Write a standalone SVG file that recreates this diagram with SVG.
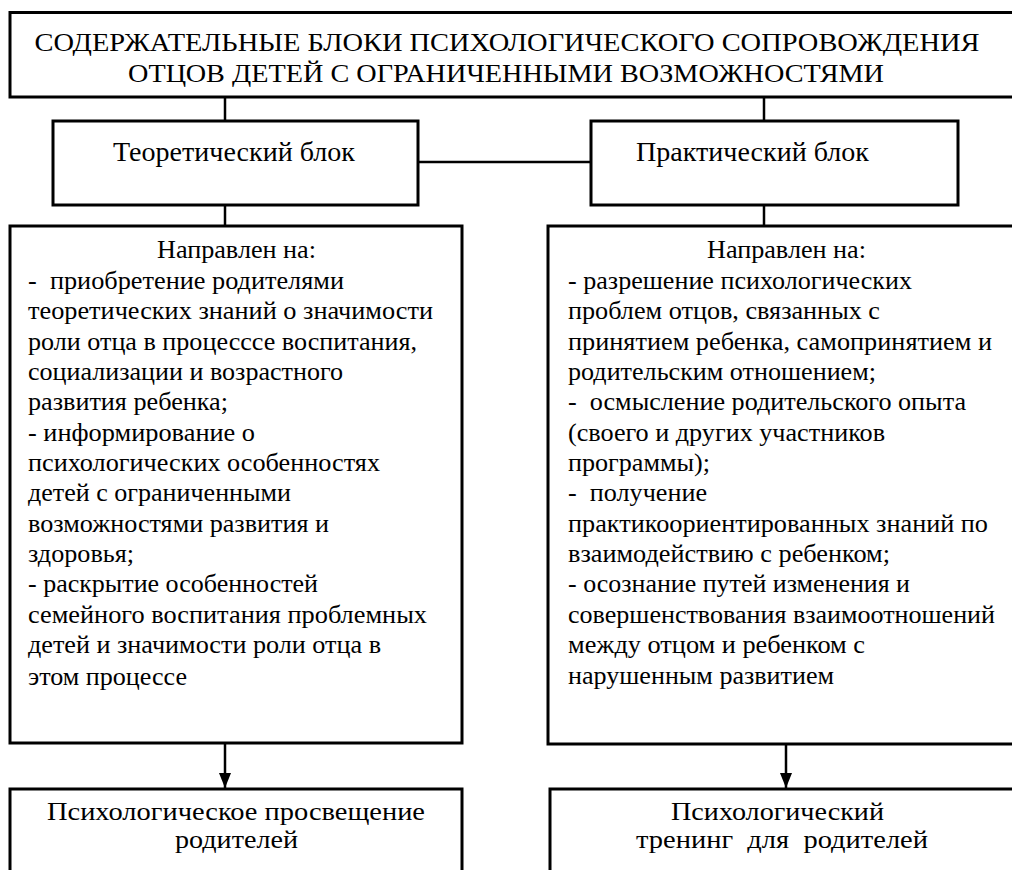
<svg xmlns="http://www.w3.org/2000/svg" width="1012" height="870" viewBox="0 0 1012 870">
<style>
.box{fill:#fff;stroke:#000;stroke-width:3}
.ln{stroke:#000;stroke-width:2.5;fill:none}
text{font-family:"Liberation Serif","DejaVu Serif","Times New Roman",serif;fill:#000;white-space:pre}
.t28{font-size:28px}
.t26{font-size:26px}
</style>
<defs>
<marker id="ah" markerWidth="15" markerHeight="12" refX="15" refY="6" orient="auto" markerUnits="userSpaceOnUse" viewBox="0 0 15 12">
<path d="M0,0 L15,6 L0,12 Z" fill="#000"/>
</marker>
</defs>
<g id="connectors">
<line class="ln" x1="225" y1="97" x2="225" y2="121"/>
<line class="ln" x1="764" y1="97" x2="764" y2="121"/>
<line class="ln" x1="418" y1="162" x2="591" y2="162"/>
<line class="ln" x1="225" y1="205" x2="225" y2="226"/>
<line class="ln" x1="764" y1="205" x2="764" y2="226"/>
<line class="ln" x1="225" y1="743" x2="225" y2="788" marker-end="url(#ah)"/>
<line class="ln" x1="786" y1="744" x2="786" y2="788" marker-end="url(#ah)"/>
</g>
<g id="title">
<rect class="box" x="10" y="12.5" width="1012" height="84.5"/>
<text class="t26" x="34.5" y="51" textLength="945" lengthAdjust="spacingAndGlyphs">СОДЕРЖАТЕЛЬНЫЕ БЛОКИ ПСИХОЛОГИЧЕСКОГО СОПРОВОЖДЕНИЯ</text>
<text class="t26" x="128" y="82" textLength="756" lengthAdjust="spacingAndGlyphs">ОТЦОВ ДЕТЕЙ С ОГРАНИЧЕННЫМИ ВОЗМОЖНОСТЯМИ</text>
</g>
<g id="theory">
<rect class="box" x="53" y="121" width="365" height="84"/>
<text class="t28" x="113" y="161" textLength="242" lengthAdjust="spacingAndGlyphs">Теоретический блок</text>
</g>
<g id="practice">
<rect class="box" x="591" y="121" width="367" height="84"/>
<text class="t28" x="636" y="161" textLength="233" lengthAdjust="spacingAndGlyphs">Практический блок</text>
</g>
<g id="theory-content">
<rect class="box" x="10" y="226" width="452" height="517"/>
<text class="t26" x="157" y="258" textLength="159" lengthAdjust="spacingAndGlyphs">Направлен на:</text>
<text class="t26" x="28" y="288.5" textLength="316" lengthAdjust="spacingAndGlyphs">-  приобретение родителями</text>
<text class="t26" x="28" y="319" textLength="405" lengthAdjust="spacingAndGlyphs">теоретических знаний о значимости</text>
<text class="t26" x="28" y="349.5" textLength="389" lengthAdjust="spacingAndGlyphs">роли отца в процесссе воспитания,</text>
<text class="t26" x="28" y="380" textLength="315" lengthAdjust="spacingAndGlyphs">социализации и возрастного</text>
<text class="t26" x="28" y="410" textLength="200" lengthAdjust="spacingAndGlyphs">развития ребенка;</text>
<text class="t26" x="28" y="440.5" textLength="227" lengthAdjust="spacingAndGlyphs">- информирование о</text>
<text class="t26" x="28" y="471" textLength="352" lengthAdjust="spacingAndGlyphs">психологических особенностях</text>
<text class="t26" x="28" y="501" textLength="263" lengthAdjust="spacingAndGlyphs">детей с ограниченными</text>
<text class="t26" x="28" y="531.5" textLength="301" lengthAdjust="spacingAndGlyphs">возможностями развития и</text>
<text class="t26" x="28" y="562" textLength="106" lengthAdjust="spacingAndGlyphs">здоровья;</text>
<text class="t26" x="28" y="592" textLength="290" lengthAdjust="spacingAndGlyphs">- раскрытие особенностей</text>
<text class="t26" x="28" y="622.5" textLength="399" lengthAdjust="spacingAndGlyphs">семейного воспитания проблемных</text>
<text class="t26" x="28" y="653" textLength="353" lengthAdjust="spacingAndGlyphs">детей и значимости роли отца в</text>
<text class="t26" x="28" y="685" textLength="159" lengthAdjust="spacingAndGlyphs">этом процессе</text>
</g>
<g id="practice-content">
<rect class="box" x="548" y="226" width="474" height="518"/>
<text class="t26" x="707" y="258" textLength="159" lengthAdjust="spacingAndGlyphs">Направлен на:</text>
<text class="t26" x="568" y="288.5" textLength="344" lengthAdjust="spacingAndGlyphs">- разрешение психологических</text>
<text class="t26" x="568" y="319" textLength="312" lengthAdjust="spacingAndGlyphs">проблем отцов, связанных с</text>
<text class="t26" x="568" y="349.5" textLength="424" lengthAdjust="spacingAndGlyphs">принятием ребенка, самопринятием и</text>
<text class="t26" x="568" y="380" textLength="308" lengthAdjust="spacingAndGlyphs">родительским отношением;</text>
<text class="t26" x="568" y="410" textLength="398" lengthAdjust="spacingAndGlyphs">-  осмысление родительского опыта</text>
<text class="t26" x="568" y="440.5" textLength="317" lengthAdjust="spacingAndGlyphs">(своего и других участников</text>
<text class="t26" x="568" y="471" textLength="142" lengthAdjust="spacingAndGlyphs">программы);</text>
<text class="t26" x="568" y="501" textLength="139" lengthAdjust="spacingAndGlyphs">-  получение</text>
<text class="t26" x="568" y="531.5" textLength="420" lengthAdjust="spacingAndGlyphs">практикоориентированных знаний по</text>
<text class="t26" x="568" y="562" textLength="322" lengthAdjust="spacingAndGlyphs">взаимодействию с ребенком;</text>
<text class="t26" x="568" y="592" textLength="342" lengthAdjust="spacingAndGlyphs">- осознание путей изменения и</text>
<text class="t26" x="568" y="622.5" textLength="427" lengthAdjust="spacingAndGlyphs">совершенствования взаимоотношений</text>
<text class="t26" x="568" y="653" textLength="297" lengthAdjust="spacingAndGlyphs">между отцом и ребенком с</text>
<text class="t26" x="568" y="684" textLength="266" lengthAdjust="spacingAndGlyphs">нарушенным развитием</text>
</g>
<g id="education">
<rect class="box" x="10" y="789" width="452" height="100"/>
<text class="t26" x="47" y="820" textLength="378" lengthAdjust="spacingAndGlyphs">Психологическое просвещение</text>
<text class="t26" x="175" y="848" textLength="123" lengthAdjust="spacingAndGlyphs">родителей</text>
</g>
<g id="training">
<rect class="box" x="550" y="789" width="472" height="100"/>
<text class="t26" x="671" y="820" textLength="213" lengthAdjust="spacingAndGlyphs">Психологический</text>
<text class="t26" x="636" y="848" textLength="292" lengthAdjust="spacingAndGlyphs">тренинг  для  родителей</text>
</g>
</svg>
